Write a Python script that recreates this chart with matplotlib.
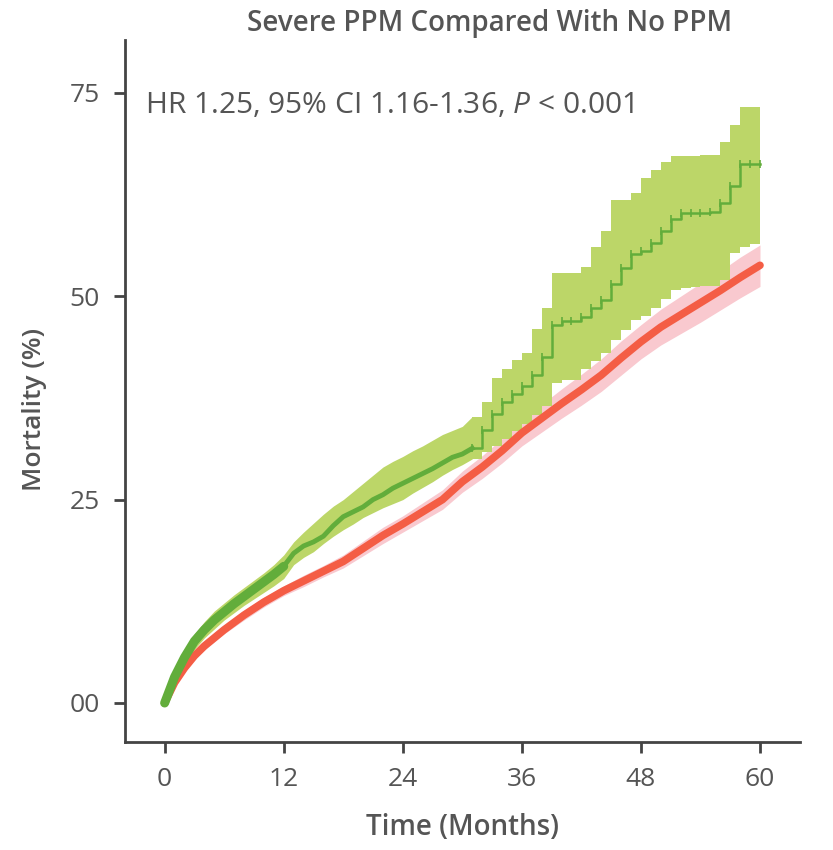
import matplotlib
matplotlib.use("Agg")
import matplotlib.pyplot as plt
import numpy as np

# ---------------- data ----------------
red_t = [0, 1, 2, 3, 4, 5, 6, 8, 10, 12, 14, 16, 18, 20, 22, 24, 26, 28, 30, 32, 34,
         36, 38, 40, 42, 44, 46, 48, 50, 52, 54, 56, 58, 60]
red_y = [0, 2.5, 4.3, 5.8, 7.0, 8.0, 9.0, 10.8, 12.4, 13.8, 15.0, 16.2, 17.4, 19.0, 20.6,
         22.0, 23.5, 25.0, 27.2, 29.0, 31.0, 33.2, 35.0, 36.8, 38.5, 40.3, 42.4, 44.4,
         46.2, 47.7, 49.2, 50.7, 52.3, 53.8]
red_lo = [0, 2.0, 3.8, 5.3, 6.5, 7.5, 8.5, 10.2, 11.8, 13.2, 14.3, 15.5, 16.6, 18.1, 19.6,
          21.0, 22.4, 23.8, 25.9, 27.6, 29.5, 31.6, 33.3, 35.0, 36.6, 38.3, 40.3, 42.3,
          44.0, 45.4, 46.8, 48.3, 49.8, 51.2]
red_hi = [0, 3.0, 4.8, 6.3, 7.5, 8.5, 9.5, 11.4, 13.0, 14.4, 15.7, 16.9, 18.2, 19.9, 21.6,
          23.0, 24.6, 26.2, 28.5, 30.4, 32.5, 34.8, 36.7, 38.6, 40.4, 42.3, 44.5, 46.5,
          48.4, 50.0, 51.6, 53.1, 54.8, 56.3]

grn_t = [0, 1, 2, 3, 4, 5, 6, 7, 8, 9, 10, 11, 12, 13, 14, 15, 16, 17, 18, 19, 20, 21,
         22, 23, 24, 25, 26, 27, 28, 29, 30, 31, 32, 33, 34, 35, 36, 37, 38, 39, 40, 41,
         42, 43, 44, 45, 46, 47, 48, 49, 50, 51, 52, 53, 54, 55, 56, 57, 58, 59, 60]
grn_y = [0, 3.2, 5.6, 7.6, 9.0, 10.2, 11.2, 12.2, 13.1, 14.0, 14.9, 15.8, 16.8, 18.4,
         19.3, 19.8, 20.5, 21.8, 22.9, 23.5, 24.1, 25.0, 25.6, 26.4, 27.0, 27.6, 28.2,
         28.8, 29.5, 30.2, 30.6, 31.3, 33.5, 35.5, 37.0, 38.0, 39.0, 40.3, 42.5, 46.5,
         46.9, 46.9, 47.5, 48.5, 49.5, 51.5, 53.5, 55.2, 55.5, 56.5, 58.0, 59.5, 60.2,
         60.2, 60.2, 60.3, 61.5, 63.5, 66.3, 66.3, 66.3]
grn_hi = [0.3, 4.2, 6.5, 8.5, 10.0, 11.3, 12.3, 13.3, 14.2, 15.1, 16.0, 17.0, 18.2,
          19.8, 21.0, 22.1, 23.2, 24.2, 25.0, 26.0, 27.0, 28.0, 29.0, 29.7, 30.3, 31.0,
          31.6, 32.3, 33.0, 33.5, 34.0, 35.2, 37.0, 40.0, 41.0, 42.2, 43.0, 46.0, 48.5,
          52.9, 52.9, 52.9, 53.6, 56.0, 58.0, 61.8, 61.8, 62.7, 64.5, 65.5, 66.5, 67.2,
          67.2, 67.2, 67.3, 67.4, 69.0, 71.0, 73.3, 73.3, 73.3]
grn_lo = [-0.3, 2.4, 4.8, 6.6, 8.0, 9.1, 10.2, 11.1, 12.0, 12.8, 13.6, 14.4, 15.3, 17.0,
          17.9, 18.6, 19.6, 20.5, 21.3, 22.0, 22.8, 23.4, 24.0, 24.5, 25.0, 25.8, 26.5,
          27.2, 28.0, 28.7, 29.3, 30.0, 30.8, 31.6, 32.5, 33.4, 34.3, 35.4, 36.5, 39.3,
          39.7, 39.7, 41.0, 42.0, 43.0, 44.6, 45.8, 47.1, 47.6, 48.5, 49.6, 50.8, 51.0,
          51.1, 51.2, 51.2, 52.0, 55.3, 56.0, 56.4, 56.6]

x_ticks = [0, 12, 24, 36, 48, 60]
y_ticks = [0, 25, 50, 75]
y_tick_labels = ["00", "25", "50", "75"]

title = "Severe PPM Compared With No PPM"
annotation = r"HR 1.25, 95% CI 1.16-1.36, $\it{P}$ < 0.001"
xlabel = "Time (Months)"
ylabel = "Mortality (%)"

# ---------------- styling ----------------
RED_LINE = "#f45d45"
RED_BAND = "#f9c9cf"
GRN_LINE = "#62ad3b"
GRN_BAND = "#bcd668"
TXT = "#555555"
SPINE = "#444444"

plt.rcParams["font.family"] = ["Open Sans", "DejaVu Sans"]
plt.rcParams["mathtext.fontset"] = "custom"
plt.rcParams["mathtext.it"] = "Open Sans:italic"

fig = plt.figure(figsize=(8.33, 8.5), dpi=100)
ax = fig.add_axes([0.150, 0.127, 0.810, 0.826])

SPLIT = 31  # index where the stepped part of the green curve starts (month 31)

ax.fill_between(red_t, red_lo, red_hi, color=RED_BAND, lw=0, zorder=1)
# early green band is finely stepped (looks smooth), later coarse steps
ax.fill_between(grn_t[:SPLIT + 1], grn_lo[:SPLIT + 1], grn_hi[:SPLIT + 1],
                color=GRN_BAND, lw=0, zorder=2)
ax.fill_between(grn_t[SPLIT:], grn_lo[SPLIT:], grn_hi[SPLIT:],
                color=GRN_BAND, lw=0, step="post", zorder=2)
ax.plot(red_t, red_y, color=RED_LINE, lw=5.5, solid_capstyle="round", zorder=3)
ax.plot(grn_t[:13], grn_y[:13], color=GRN_LINE, lw=6.5, solid_capstyle="round", zorder=4)
ax.plot(grn_t[12:SPLIT + 1], grn_y[12:SPLIT + 1], color=GRN_LINE, lw=3.5, zorder=4)
ax.step(grn_t[SPLIT:], grn_y[SPLIT:], where="post", color=GRN_LINE, lw=1.8, zorder=4)
ax.plot(grn_t[SPLIT:], grn_y[SPLIT:], ls="none", marker="|", ms=6, mew=1.2,
        color=GRN_LINE, zorder=4)

ax.set_xlim(-4, 64)
ax.set_ylim(-4.8, 81.5)
ax.set_xticks(x_ticks)
ax.set_yticks(y_ticks)
ax.set_yticklabels(y_tick_labels)

for s in ["top", "right"]:
    ax.spines[s].set_visible(False)
for s in ["left", "bottom"]:
    ax.spines[s].set_color(SPINE)
    ax.spines[s].set_linewidth(2)
ax.tick_params(axis="both", direction="out", length=8, width=2, color=SPINE,
               labelcolor=TXT, labelsize=19, pad=10)
ax.tick_params(axis="y", pad=10, labelsize=19)

ax.text(0.030, 0.907, annotation, transform=ax.transAxes, ha="left", va="center",
        fontsize=21.5, color=TXT)

fig.text(0.588, 0.972, title, ha="center", va="center", fontsize=20,
         fontweight="semibold", color=TXT)
fig.text(0.042, 0.518, ylabel, ha="center", va="center", rotation=90, fontsize=19,
         fontweight="semibold", color=TXT)
fig.text(0.555, 0.026, xlabel, ha="center", va="center", fontsize=20,
         fontweight="semibold", color=TXT)

fig.savefig("out.png", dpi=100)
